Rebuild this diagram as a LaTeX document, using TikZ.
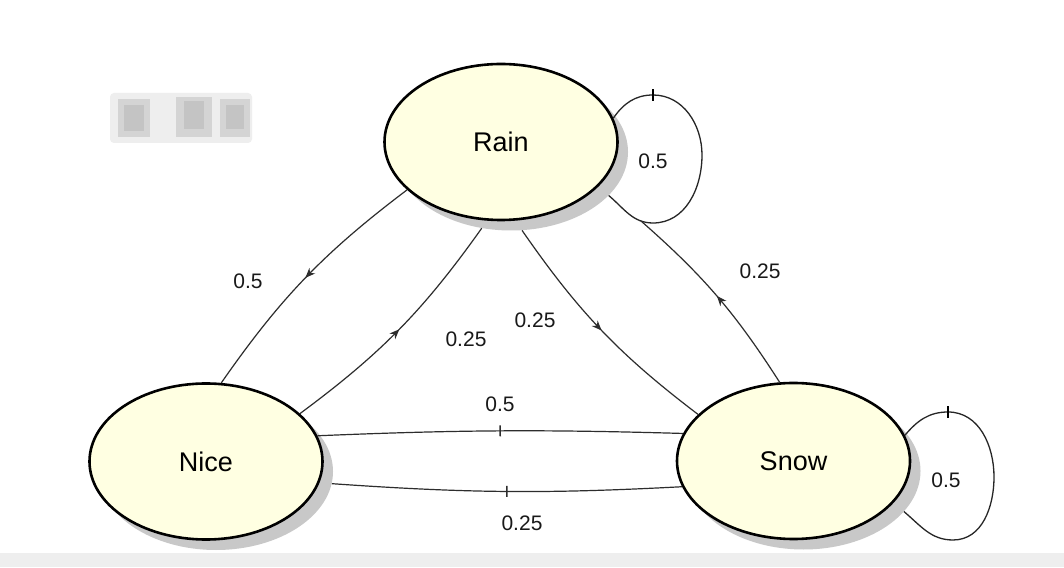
\documentclass[tikz,border=0pt]{standalone}
\usepackage{fontspec}
\setmainfont{Liberation Sans}
\usetikzlibrary{shapes.geometric,arrows.meta,decorations.markings}
\definecolor{stfill}{RGB}{255,255,226}
\definecolor{edgec}{RGB}{45,45,45}
\definecolor{shadowc}{RGB}{200,200,200}
\definecolor{bandc}{RGB}{238,238,238}
\definecolor{blurA}{RGB}{238,238,238}
\definecolor{blurB}{RGB}{212,212,212}
\definecolor{blurC}{RGB}{196,196,196}
\begin{document}
\begin{tikzpicture}[x=1pt,y=1pt,
  state/.style={ellipse, draw=black, line width=2.6pt, fill=stfill,
    minimum width=233pt, minimum height=156pt, inner sep=0pt,
    font=\fontsize{27}{30}\selectfont},
  stshadow/.style={ellipse, fill=shadowc, minimum width=234pt,
    minimum height=157pt, inner sep=0pt},
  edge/.style={draw=edgec, line width=1.2pt},
  loopedge/.style={draw=black!85, line width=1.3pt},
  midarrow/.style={postaction={decorate}, decoration={markings,
    mark=at position 0.5 with {\arrow{Stealth[length=10pt,width=8pt]}}}},
  midtick/.style={postaction={decorate}, decoration={markings,
    mark=at position #1 with {\draw[line width=1.5pt] (0pt,-5.5pt) -- (0pt,5.5pt);}}},
  ticksty/.style={draw=black, line width=1.6pt},
  prob/.style={font=\fontsize{21}{24}\selectfont, text=black!90, inner sep=1pt},
]
% background and bounds
\fill[white] (0,0) rectangle (1064,567);
\useasboundingbox (0,0) rectangle (1064,567);
\fill[bandc] (0,0) rectangle (1064,14);

% blurred patch
\fill[blurA, rounded corners=4pt] (110,424) rectangle (252,474);
\fill[blurB] (118,430) rectangle (150,468);
\fill[blurC] (124,436) rectangle (144,462);
\fill[blurB] (176,430) rectangle (212,470);
\fill[blurC] (184,438) rectangle (204,466);
\fill[blurB] (220,430) rectangle (250,468);
\fill[blurC] (226,438) rectangle (244,462);

% shadows
\node[stshadow] (rainS) at (511,415) {};
\node[stshadow] (niceS) at (216,95.5) {};
\node[stshadow] (snowS) at (803.5,96) {};

% states
\node[state] (rain) at (501,425) {Rain};
\node[state] (nice) at (206,105.5) {Nice};
\node[state] (snow) at (793.5,106) {Snow};

% self loops
\coordinate (rtop) at (653,472);
\coordinate (rright) at (702,412);
\coordinate (rbot) at (653,344);
\coordinate (rlb) at (641,346);
\draw[loopedge] (rain.12) to[out=55,in=180] (rtop) to[out=0,in=90] (rright)
  to[out=-90,in=0] (rbot) to[out=180,in=-40] (rainS.-24);
\draw[ticksty] ([yshift=-6pt]rtop) -- ([yshift=6pt]rtop);

\coordinate (stop) at (948,155);
\coordinate (sright) at (994,90);
\coordinate (sbot) at (953,27);
\draw[loopedge] (snow.13) to[out=50,in=180] (stop) to[out=0,in=90] (sright)
  to[out=-90,in=0] (sbot) to[out=180,in=-40] (snowS.-22);
\draw[ticksty] ([yshift=-6pt]stop) -- ([yshift=6pt]stop);

% transitions
\draw[edge,midarrow] (rain.207) to[bend right=9] (nice.79);
\draw[edge,midarrow] (nice.27) to[bend right=9] (rainS.249);
\draw[edge,midarrow] (rainS.278) to[bend right=9] (snow.154);
\draw[edge,midarrow] (snow.100) to[bend right=8] (rlb);
\draw[edge,midtick=0.5] (nice.13) to[bend left=2] (snow.166);
\draw[edge,midtick=0.5] (niceS.-6) to[bend right=3.5] (snow.193);

% labels
\node[prob] (lrr) at (653,406) {0.5};
\node[prob] (lrn) at (248,286) {0.5};
\node[prob] (lnr) at (466,228) {0.25};
\node[prob] (lrs) at (535,247) {0.25};
\node[prob] (lsr) at (760,296) {0.25};
\node[prob] (lns) at (500,163) {0.5};
\node[prob] (lsn) at (522,44) {0.25};
\node[prob] (lss) at (946,87) {0.5};
\end{tikzpicture}
\end{document}
